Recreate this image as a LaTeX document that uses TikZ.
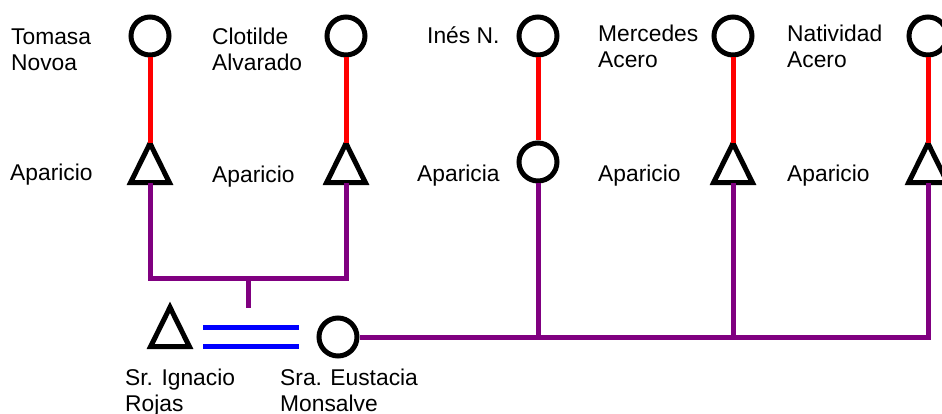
\documentclass[tikz,border=0pt]{standalone}
\usepackage{fontspec}
\setmainfont{Liberation Sans}
\usetikzlibrary{calc}
\newcommand\twol[2]{\begin{tabular}[t]{@{}l@{}}#1\\#2\end{tabular}}
\begin{document}
\begin{tikzpicture}[x=1pt,y=-1pt,
  fem/.style={circle, draw, line width=5pt, minimum size=38pt, inner sep=0pt},
  male/.style={minimum width=38.5pt, minimum height=39pt, inner sep=0pt,
    append after command={\pgfextra{\draw[line width=5pt, line join=miter]
      (\tikzlastnode.south west) -- (\tikzlastnode.north) -- (\tikzlastnode.south east) -- cycle;}}},
  lbl/.style={anchor=base west, inner sep=0pt, font=\fontsize{22.8}{26}\selectfont},
  par/.style={draw=red, line width=5pt},
  desc/.style={draw={rgb,255:red,128;green,0;blue,128}, line width=5pt, line join=miter},
  marr/.style={draw=blue, line width=5pt}
]
\useasboundingbox (0,0) rectangle (942,414);
% top row
\node[fem] (c1) at (150,36) {};
\node[fem] (c2) at (346,36) {};
\node[fem] (c3) at (538,36) {};
\node[fem] (c4) at (733,36) {};
\node[fem] (c5) at (928,36) {};
% second row
\node[male] (t1) at (150,163) {};
\node[male] (t2) at (346,163) {};
\node[fem] (c6) at (538,162) {};
\node[male] (t4) at (733,163) {};
\node[male] (t5) at (928,163) {};
% bottom
\node[male] (t6) at (170,327) {};
\node[fem] (c7) at (338,337) {};
% parent links
\draw[par] (c1) -- (t1.north);
\draw[par] (c2) -- (t2.north);
\draw[par] (c3) -- (c6);
\draw[par] (c4) -- (t4.north);
\draw[par] (c5) -- (t5.north);
% sibship of t1, t2
\coordinate (sib) at (248,278);
\coordinate (mar) at (248,308);
\draw[desc] (t1.south) |- (sib) -| (t2.south);
\draw[desc] (sib) -- (mar);
% marriage
\draw[marr] ($(t6.east|-c7.west)+(14,-9.5)$) -- ($(c7.west)+(-18,-9.5)$);
\draw[marr] ($(t6.east|-c7.west)+(14,9.5)$) -- ($(c7.west)+(-18,9.5)$);
% descendants of c7
\draw[desc] (c7.east) -- (c7.east -| t5.south) -- (t5.south);
\draw[desc] (c6.south) -- (c6.south |- c7.east);
\draw[desc] (t4.south) -- (t4.south |- c7.east);
% labels
\node[lbl] (l1) at (11,45) {\twol{Tomasa}{Novoa}};
\node[lbl] (l2) at (212,45) {\twol{Clotilde}{Alvarado}};
\node[lbl] (l3) at (427,44) {Inés N.};
\node[lbl] (l4) at (598,42) {\twol{Mercedes}{Acero}};
\node[lbl] (l5) at (787,42) {\twol{Natividad}{Acero}};
\node[lbl] (l6) at (10,181) {Aparicio};
\node[lbl] (l7) at (212,183) {Aparicio};
\node[lbl] (l8) at (417,182) {Aparicia};
\node[lbl] (l9) at (598,182) {Aparicio};
\node[lbl] (l10) at (787,182) {Aparicio};
\node[lbl] (l11) at (125,385) {\twol{Sr. Ignacio}{Rojas}};
\node[lbl] (l12) at (280,385) {\twol{Sra. Eustacia}{Monsalve}};
\end{tikzpicture}
\end{document}
